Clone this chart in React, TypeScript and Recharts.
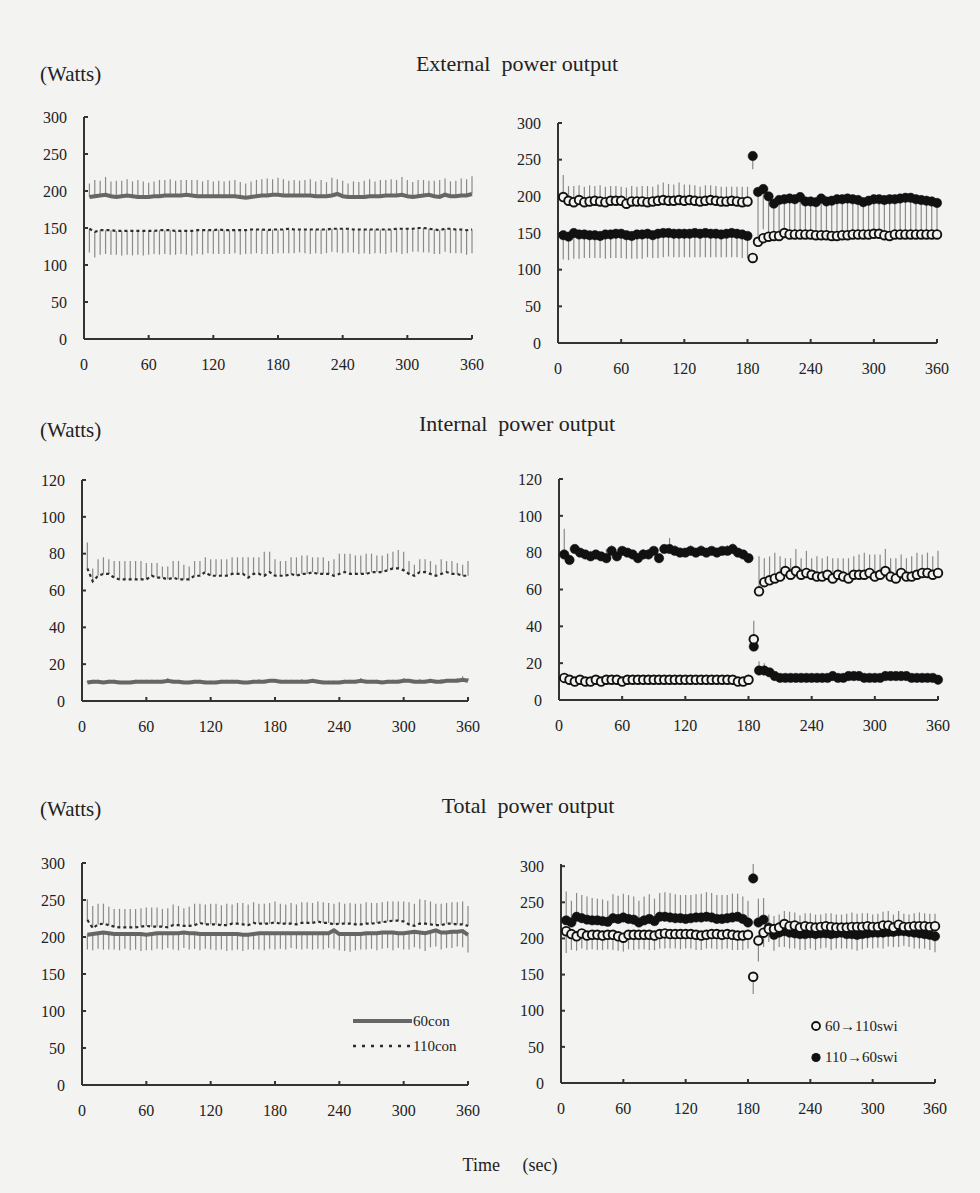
import React from "react";
import { ComposedChart, Line, XAxis, YAxis, ErrorBar } from "recharts";

// sampling times (sec)
const TIMES = [
  5, 10, 15, 20, 25, 30, 35, 40, 45, 50, 55, 60,
  65, 70, 75, 80, 85, 90, 95, 100, 105, 110, 115, 120,
  125, 130, 135, 140, 145, 150, 155, 160, 165, 170, 175, 180,
  185, 190, 195, 200, 205, 210, 215, 220, 225, 230, 235, 240,
  245, 250, 255, 260, 265, 270, 275, 280, 285, 290, 295, 300,
  305, 310, 315, 320, 325, 330, 335, 340, 345, 350, 355, 360,
];
const X_TICKS = [0, 60, 120, 180, 240, 300, 360];
const TICKS_300 = [0, 50, 100, 150, 200, 250, 300];
const TICKS_120 = [0, 20, 40, 60, 80, 100, 120];

// SD values: positive = bar drawn upward, negative = downward

// External power output, constant conditions
const EXT_CON60 = [
  192, 193, 194, 195, 193, 192, 193, 194, 193, 192, 192, 192,
  193, 193, 194, 194, 194, 194, 195, 194, 193, 193, 193, 193,
  193, 193, 193, 193, 192, 191, 192, 193, 194, 194, 195, 195,
  194, 194, 194, 194, 194, 194, 193, 193, 193, 194, 196, 193,
  192, 192, 192, 192, 193, 193, 193, 194, 194, 194, 195, 193,
  192, 193, 194, 195, 193, 192, 195, 193, 193, 194, 194, 196,
];
const EXT_CON60_SD = [
  18, 22, 20, 24, 20, 22, 21, 22, 20, 23, 21, 19,
  20, 22, 21, 22, 20, 21, 20, 21, 22, 20, 22, 20,
  21, 20, 21, 22, 20, 19, 21, 22, 22, 23, 21, 23,
  22, 20, 21, 20, 21, 22, 20, 22, 19, 24, 20, 21,
  18, 21, 20, 22, 23, 20, 22, 21, 22, 21, 24, 22,
  20, 22, 21, 19, 21, 23, 22, 20, 21, 23, 22, 24,
];
const EXT_CON110 = [
  149, 145, 147, 147, 147, 146, 146, 146, 146, 146, 146, 146,
  146, 147, 147, 147, 146, 146, 146, 146, 147, 147, 147, 147,
  148, 147, 147, 147, 147, 147, 148, 148, 148, 147, 148, 148,
  148, 149, 148, 148, 148, 148, 148, 148, 148, 149, 149, 149,
  149, 148, 148, 148, 148, 148, 148, 148, 148, 149, 149, 149,
  149, 150, 150, 149, 148, 147, 149, 149, 148, 148, 147, 148,
];
const EXT_CON110_SD = [
  -32, -35, -33, -32, -33, -32, -33, -32, -33, -32, -33, -32,
  -31, -33, -32, -33, -32, -31, -32, -33, -32, -33, -31, -32,
  -33, -32, -32, -31, -33, -32, -33, -32, -33, -32, -33, -32,
  -32, -33, -32, -31, -32, -33, -32, -33, -32, -31, -32, -33,
  -32, -31, -33, -32, -33, -32, -32, -33, -31, -32, -34, -33,
  -31, -32, -33, -32, -33, -32, -31, -33, -32, -32, -33, -32,
];

// External power output, switch conditions
const EXT_OPEN = [
  199, 194, 192, 195, 192, 193, 194, 193, 192, 194, 194, 194,
  190, 193, 193, 193, 192, 193, 194, 195, 194, 194, 195, 194,
  195, 194, 193, 194, 195, 194, 193, 193, 194, 193, 192, 193,
  116, 138, 143, 145, 146, 146, 150, 148, 148, 148, 148, 148,
  147, 147, 147, 146, 146, 147, 147, 148, 148, 148, 148, 149,
  149, 147, 146, 148, 148, 148, 148, 148, 148, 148, 148, 148,
];
const EXT_OPEN_SD = [
  30, 20, 22, 20, 21, 22, 20, 22, 21, 20, 20, 19,
  22, 21, 20, 21, 22, 20, 22, 24, 23, 22, 24, 22,
  21, 21, 20, 21, 20, 20, 20, 20, 19, 20, 21, 20,
  0, 4, 4, 4, 4, 4, 4, 4, 4, 4, 4, 4,
  4, 4, 4, 4, 4, 4, 4, 4, 4, 4, 4, 4,
  4, 4, 4, 4, 4, 4, 4, 4, 4, 4, 4, 4,
];
const EXT_FILL = [
  147, 145, 150, 148, 148, 147, 147, 146, 148, 148, 149, 149,
  147, 146, 148, 148, 149, 147, 149, 150, 150, 149, 149, 149,
  149, 150, 149, 150, 149, 149, 148, 149, 150, 149, 148, 146,
  255, 206, 210, 200, 190, 195, 196, 197, 196, 199, 193, 193,
  192, 197, 193, 194, 196, 196, 197, 196, 195, 192, 194, 196,
  196, 195, 196, 196, 197, 198, 198, 196, 195, 194, 193, 191,
];
const EXT_FILL_SD = [
  -33, -32, -35, -33, -32, -31, -31, -30, -33, -32, -33, -33,
  -32, -31, -33, -33, -32, -31, -33, -33, -32, -32, -32, -32,
  -32, -33, -32, -33, -32, -32, -31, -32, -33, -32, -32, -30,
  -18, -60, -55, -50, -40, -44, -45, -45, -44, -47, -42, -42,
  -41, -46, -43, -44, -45, -45, -46, -45, -44, -42, -44, -45,
  -45, -44, -45, -45, -46, -47, -47, -45, -44, -44, -43, -41,
];

// Internal power output, constant conditions
const INT_CON110 = [
  72, 65, 68, 69, 69, 67, 66, 66, 66, 66, 66, 66,
  68, 67, 67, 66, 67, 66, 66, 66, 68, 68, 70, 68,
  68, 68, 68, 69, 69, 69, 67, 69, 69, 68, 70, 68,
  68, 68, 69, 68, 69, 69, 70, 69, 69, 69, 68, 69,
  70, 69, 69, 69, 69, 70, 70, 70, 71, 72, 72, 71,
  69, 68, 70, 70, 69, 68, 69, 70, 69, 69, 68, 68,
];
const INT_CON110_SD = [
  14, 7, 9, 9, 8, 9, 10, 10, 10, 10, 10, 9,
  7, 8, 6, 7, 9, 10, 8, 7, 8, 8, 8, 9,
  9, 9, 9, 9, 9, 9, 11, 9, 9, 13, 11, 9,
  8, 8, 9, 10, 10, 10, 8, 9, 9, 7, 9, 11,
  10, 11, 10, 10, 11, 10, 9, 9, 9, 9, 10, 10,
  7, 6, 7, 7, 7, 6, 8, 6, 7, 6, 6, 8,
];
const INT_CON60 = [
  10, 10.5, 10.5, 10, 10.5, 10.5, 10, 10, 10, 10.5, 10.5, 10.5,
  10.5, 10.5, 10.5, 11, 10.5, 10.5, 10, 10, 10.5, 10.5, 10, 10,
  10, 10.5, 10.5, 10.5, 10.5, 10, 10, 10.5, 10.5, 10.5, 11, 11,
  10.5, 10.5, 10.5, 10.5, 10.5, 10.5, 11, 10.5, 10, 10, 10, 10,
  10.5, 10.5, 10.5, 11, 10.5, 10.5, 10.5, 10, 10.5, 10.5, 10.5, 11,
  11, 10.5, 10.5, 10.5, 11, 10.5, 10.5, 11, 11, 11, 11.5, 11,
];
const INT_CON60_SD = [
  1, 1, 1, 1, 1, 1, 1, 1, 1, 1, 1, 1,
  1, 1, 1, 1.5, 1, 1, 1, 1, 1, 1, 1, 1,
  1, 1, 1, 1, 1, 1, 1, 1, 1.5, 1, 1, 1,
  1, 1, 1, 1, 1.5, 1, 1, 1, 1, 1, 1, 1,
  1, 1, 1, 1.5, 1, 1, 1, 1, 1, 1, 1, 1.5,
  1, 1, 1.5, 1, 1, 1, 1.5, 1, 1, 1.5, 2, 1.5,
];

// Internal power output, switch conditions
const INT_OPEN = [
  12, 11, 10, 11, 10, 10, 11, 10, 11, 11, 11, 10,
  11, 11, 11, 11, 11, 11, 11, 11, 11, 11, 11, 11,
  11, 11, 11, 11, 11, 11, 11, 11, 11, 10, 10, 11,
  33, 59, 64, 65, 66, 67, 70, 68, 70, 68, 69, 68,
  67, 67, 68, 66, 68, 67, 66, 68, 68, 68, 69, 67,
  68, 70, 67, 66, 69, 67, 67, 68, 69, 69, 68, 69,
];
const INT_OPEN_SD = [
  1, 1, 1, 1, 1, 1, 1, 1, 1, 1, 1, 1,
  1, 1, 1, 1, 1, 1, 1, 1, 1, 1, 1, 1,
  1, 1, 1, 1, 1, 1, 1, 1, 1, 1, 1, 1,
  10, 19, 13, 13, 14, 11, 7, 9, 12, 9, 12, 9,
  11, 10, 10, 11, 9, 10, 11, 10, 11, 12, 10, 12,
  11, 12, 10, 11, 10, 10, 11, 12, 10, 11, 10, 12,
];
const INT_FILL = [
  79, 76, 82, 80, 79, 78, 79, 78, 77, 81, 78, 81,
  80, 79, 77, 79, 79, 81, 77, 82, 82, 81, 80, 80,
  81, 80, 81, 80, 81, 80, 81, 81, 82, 80, 79, 77,
  29, 16, 16, 15, 13, 12, 12, 12, 12, 12, 12, 12,
  12, 12, 12, 13, 12, 12, 13, 13, 13, 12, 12, 12,
  12, 13, 13, 13, 13, 13, 12, 12, 12, 12, 12, 11,
];
const INT_FILL_SD = [
  14, 3, 2, 2, 2, 3, 2, 2, 5, 3, 2, 2,
  2, 2, 2, 3, 3, 2, 2, 2, 6, 3, 3, 2,
  3, 2, 3, 2, 2, 3, 2, 3, 3, 2, 2, 2,
  0, 5, 4, 2, 1, 1, 1, 1, 1, 1, 1, 1,
  1, 1, 1, 1, 1, 1, 1, 1, 1, 1, 1, 1,
  1, 1, 1, 1, 1, 1, 1, 1, 1, 1, 1, 1,
];

// Total power output, constant conditions
const TOT_CON110 = [
  223, 212, 217, 218, 216, 214, 213, 213, 213, 213, 214, 215,
  214, 214, 214, 213, 216, 216, 215, 215, 216, 219, 217, 217,
  217, 216, 216, 218, 218, 217, 216, 219, 218, 218, 218, 220,
  218, 218, 218, 217, 219, 219, 219, 221, 219, 219, 217, 218,
  218, 218, 217, 217, 218, 218, 219, 220, 221, 222, 222, 221,
  217, 215, 218, 218, 217, 216, 216, 218, 218, 217, 217, 215,
];
const TOT_CON110_SD = [
  28, 30, 28, 27, 25, 24, 25, 25, 25, 25, 25, 25,
  26, 26, 24, 26, 28, 26, 24, 26, 29, 26, 27, 28,
  28, 27, 29, 26, 28, 29, 28, 28, 27, 27, 28, 28,
  27, 26, 28, 27, 28, 28, 27, 27, 28, 27, 28, 29,
  27, 28, 28, 28, 29, 28, 27, 27, 27, 26, 26, 27,
  30, 30, 33, 32, 31, 29, 29, 28, 29, 30, 31, 27,
];
const TOT_CON60 = [
  203, 204, 205, 206, 205, 204, 204, 204, 204, 204, 204, 203,
  204, 205, 205, 205, 205, 205, 206, 205, 205, 204, 204, 204,
  204, 204, 204, 204, 204, 203, 203, 204, 205, 205, 205, 205,
  205, 205, 205, 205, 205, 205, 205, 205, 205, 205, 209, 204,
  204, 204, 204, 204, 205, 205, 205, 206, 206, 206, 205, 205,
  206, 207, 206, 205, 207, 209, 206, 206, 207, 207, 208, 203,
];
const TOT_CON60_SD = [
  -20, -22, -21, -23, -22, -21, -22, -20, -22, -21, -23, -21,
  -22, -21, -22, -20, -22, -23, -21, -22, -21, -22, -20, -21,
  -22, -21, -23, -22, -21, -22, -20, -21, -22, -23, -21, -22,
  -21, -22, -20, -21, -22, -21, -22, -21, -22, -20, -25, -22,
  -23, -24, -22, -21, -22, -21, -23, -22, -21, -24, -20, -22,
  -23, -21, -22, -24, -21, -22, -23, -21, -22, -20, -22, -24,
];

// Total power output, switch conditions
const TOT_OPEN = [
  210, 206, 203, 207, 204, 205, 205, 204, 205, 205, 203, 201,
  205, 205, 205, 205, 205, 204, 206, 207, 206, 206, 206, 206,
  206, 205, 204, 205, 206, 206, 205, 206, 205, 204, 204, 205,
  147, 197, 208, 213, 213, 215, 220, 217, 218, 215, 217, 216,
  215, 216, 217, 216, 215, 215, 215, 216, 216, 216, 217, 216,
  216, 218, 218, 215, 219, 216, 216, 217, 217, 217, 216, 217,
];
const TOT_OPEN_SD = [
  -30, -22, -20, -21, -20, -20, -21, -20, -20, -21, -20, -19,
  -20, -21, -20, -20, -21, -20, -20, -21, -20, -20, -21, -20,
  -20, -21, -20, -19, -20, -21, -20, -20, -21, -20, -20, -19,
  -24, -29, -20, 20, 18, 18, 18, 20, 18, 17, 18, 19,
  18, 17, 18, 19, 18, 18, 19, 20, 18, 19, 18, 17,
  18, 19, 20, 18, 19, 18, 17, 18, 19, 18, 18, 17,
];
const TOT_FILL = [
  225, 222, 230, 228, 226, 225, 225, 224, 223, 228, 227, 229,
  227, 226, 222, 225, 227, 224, 230, 230, 229, 228, 228, 227,
  228, 229, 229, 230, 229, 227, 227, 228, 229, 230, 227, 222,
  283, 222, 226, 215, 205, 208, 210, 208, 207, 206, 206, 207,
  206, 207, 207, 206, 207, 208, 206, 206, 205, 206, 207, 208,
  208, 208, 209, 209, 210, 210, 209, 208, 207, 206, 205, 203,
];
const TOT_FILL_SD = [
  40, 30, 33, 32, 32, 31, 30, 30, 29, 33, 32, 33,
  33, 32, 30, 33, 34, 31, 33, 34, 34, 33, 32, 33,
  32, 32, 33, 34, 34, 33, 33, 32, 33, 32, 31, 30,
  20, 33, 30, -20, -22, -20, -22, -22, -21, -22, -22, -21,
  -22, -21, -20, -22, -21, -22, -20, -21, -22, -21, -20, -22,
  -21, -22, -20, -21, -22, -20, -21, -22, -21, -20, -21, -22,
];

const BG = "#f3f3f1";
const INK = "#222";
const FONT = "'Liberation Serif', 'DejaVu Serif', serif";

type Kind = "solid" | "dashed" | "open" | "filled";
interface Series {
  key: string;
  values: number[];
  sd: number[];
  kind: Kind;
}
interface Box {
  left: number;
  top: number;
  right: number;
  bottom: number;
}

const Y_W = 50;
const M_TOP = 12;
const M_RIGHT = 16;
const X_H = 40;

function Panel({ box, yMax, yTicks, series }: { box: Box; yMax: number; yTicks: number[]; series: Series[] }) {
  const width = box.right - box.left + Y_W + M_RIGHT;
  const height = box.bottom - box.top + M_TOP + X_H;
  const data = TIMES.map((t, i) => {
    const row: Record<string, any> = { t };
    series.forEach((s) => {
      row[s.key] = s.values[i];
      const e = s.sd[i];
      row[s.key + "Err"] = e >= 0 ? [0, e] : [-e, 0];
    });
    return row;
  });
  const tick = { fill: INK, fontSize: 16, fontFamily: FONT };
  return (
    <div style={{ position: "absolute", left: box.left - Y_W, top: box.top - M_TOP }}>
      <ComposedChart width={width} height={height} data={data} margin={{ top: M_TOP, right: M_RIGHT, bottom: 0, left: 0 }}>
        <XAxis
          type="number"
          dataKey="t"
          domain={[0, 360]}
          ticks={X_TICKS}
          interval={0}
          height={X_H}
          stroke="#333"
          strokeWidth={2}
          tickSize={-4}
          tickMargin={24}
          tick={tick}
        />
        <YAxis
          type="number"
          domain={[0, yMax]}
          ticks={yTicks}
          interval={0}
          width={Y_W}
          stroke="#333"
          strokeWidth={2}
          tickSize={-4}
          tickMargin={21}
          tick={tick}
        />
        {series.map((s) => {
          const err = <ErrorBar dataKey={s.key + "Err"} width={0} stroke="#8a8a8a" strokeWidth={1.2} direction="y" />;
          if (s.kind === "solid")
            return (
              <Line key={s.key} dataKey={s.key} stroke="#666" strokeWidth={4} dot={false} activeDot={false} isAnimationActive={false}>
                {err}
              </Line>
            );
          if (s.kind === "dashed")
            return (
              <Line key={s.key} dataKey={s.key} stroke="#2b2b2b" strokeWidth={2.2} strokeDasharray="3 3" dot={false} activeDot={false} isAnimationActive={false}>
                {err}
              </Line>
            );
          return (
            <Line
              key={s.key}
              dataKey={s.key}
              stroke="none"
              strokeWidth={0}
              dot={
                s.kind === "open"
                  ? { r: 4.3, fill: BG, stroke: "#111", strokeWidth: 1.9 }
                  : { r: 4.7, fill: "#111", stroke: "#111", strokeWidth: 0.5 }
              }
              activeDot={false}
              isAnimationActive={false}
            >
              {err}
            </Line>
          );
        })}
      </ComposedChart>
    </div>
  );
}

function Text({ x, y, size, children, anchor = "left" }: { x: number; y: number; size: number; children: React.ReactNode; anchor?: "left" | "center" }) {
  return (
    <div
      style={{
        position: "absolute",
        left: anchor === "center" ? x - 300 : x,
        width: anchor === "center" ? 600 : undefined,
        textAlign: anchor === "center" ? "center" : "left",
        top: y - size,
        height: size * 2,
        lineHeight: `${size * 2}px`,
        fontSize: size,
        fontFamily: FONT,
        color: INK,
        whiteSpace: "pre",
      }}
    >
      {children}
    </div>
  );
}

export default function App() {
  return (
    <div style={{ position: "absolute", left: 0, top: 0, width: 980, height: 1193, background: BG, overflow: "hidden" }}>
      <Text x={517} y={64} size={22} anchor="center">External  power output</Text>
      <Text x={40} y={74} size={21}>(Watts)</Text>
      <Text x={517} y={424} size={22} anchor="center">Internal  power output</Text>
      <Text x={40} y={430} size={21}>(Watts)</Text>
      <Text x={528} y={806} size={22} anchor="center">Total  power output</Text>
      <Text x={40} y={809} size={21}>(Watts)</Text>
      <Text x={510} y={1165} size={18} anchor="center">Time     (sec)</Text>

      <Panel
        box={{ left: 84, top: 117, right: 472, bottom: 339 }}
        yMax={300}
        yTicks={TICKS_300}
        series={[
          { key: "c110", values: EXT_CON110, sd: EXT_CON110_SD, kind: "dashed" },
          { key: "c60", values: EXT_CON60, sd: EXT_CON60_SD, kind: "solid" },
        ]}
      />
      <Panel
        box={{ left: 558, top: 123, right: 937, bottom: 343 }}
        yMax={300}
        yTicks={TICKS_300}
        series={[
          { key: "fill", values: EXT_FILL, sd: EXT_FILL_SD, kind: "filled" },
          { key: "open", values: EXT_OPEN, sd: EXT_OPEN_SD, kind: "open" },
        ]}
      />
      <Panel
        box={{ left: 82, top: 480, right: 468, bottom: 701 }}
        yMax={120}
        yTicks={TICKS_120}
        series={[
          { key: "c110", values: INT_CON110, sd: INT_CON110_SD, kind: "dashed" },
          { key: "c60", values: INT_CON60, sd: INT_CON60_SD, kind: "solid" },
        ]}
      />
      <Panel
        box={{ left: 559, top: 479, right: 938, bottom: 700 }}
        yMax={120}
        yTicks={TICKS_120}
        series={[
          { key: "fill", values: INT_FILL, sd: INT_FILL_SD, kind: "filled" },
          { key: "open", values: INT_OPEN, sd: INT_OPEN_SD, kind: "open" },
        ]}
      />
      <Panel
        box={{ left: 82, top: 863, right: 468, bottom: 1085 }}
        yMax={300}
        yTicks={TICKS_300}
        series={[
          { key: "c110", values: TOT_CON110, sd: TOT_CON110_SD, kind: "dashed" },
          { key: "c60", values: TOT_CON60, sd: TOT_CON60_SD, kind: "solid" },
        ]}
      />
      <Panel
        box={{ left: 561, top: 864, right: 935, bottom: 1083 }}
        yMax={300}
        yTicks={TICKS_300}
        series={[
          { key: "fill", values: TOT_FILL, sd: TOT_FILL_SD, kind: "filled" },
          { key: "open", values: TOT_OPEN, sd: TOT_OPEN_SD, kind: "open" },
        ]}
      />

      {/* legend, constant conditions */}
      <svg style={{ position: "absolute", left: 350, top: 1010 }} width={65} height={45}>
        <line x1={3} y1={11} x2={62} y2={11} stroke="#666" strokeWidth={4} />
        <line x1={3} y1={36} x2={62} y2={36} stroke="#2b2b2b" strokeWidth={2.5} strokeDasharray="3 6" />
      </svg>
      <Text x={413} y={1021} size={15}>60con</Text>
      <Text x={413} y={1046} size={15}>110con</Text>

      {/* legend, switch conditions */}
      <svg style={{ position: "absolute", left: 808, top: 1018 }} width={16} height={48}>
        <circle cx={8} cy={8} r={4} fill={BG} stroke="#111" strokeWidth={1.8} />
        <circle cx={8} cy={39.5} r={4.6} fill="#111" />
      </svg>
      <Text x={825} y={1026} size={15}>60→110swi</Text>
      <Text x={825} y={1057} size={15}>110→60swi</Text>
    </div>
  );
}
